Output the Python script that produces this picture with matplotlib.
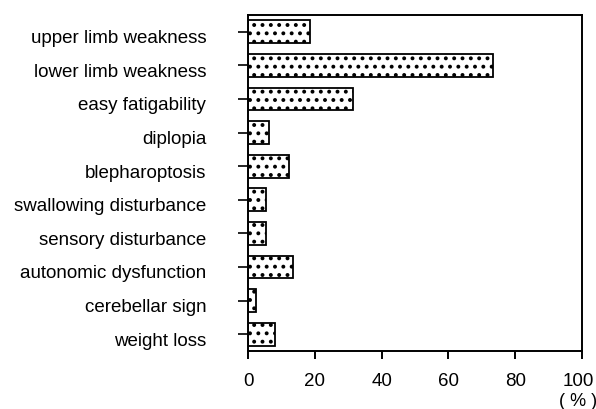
import matplotlib
matplotlib.use("Agg")
import matplotlib.pyplot as plt
import matplotlib.transforms as mtransforms

symptoms = [
    "upper limb weakness",
    "lower limb weakness",
    "easy fatigability",
    "diplopia",
    "blepharoptosis",
    "swallowing disturbance",
    "sensory disturbance",
    "autonomic dysfunction",
    "cerebellar sign",
    "weight loss",
]
percent = [18.6, 73.4, 31.4, 6.3, 12.3, 5.5, 5.5, 13.6, 2.4, 8.0]
xticks = [0, 20, 40, 60, 80, 100]

plt.rcParams["font.family"] = ["Liberation Sans", "DejaVu Sans"]
plt.rcParams["hatch.linewidth"] = 1.6
plt.rcParams["hatch.color"] = "black"

fig = plt.figure(figsize=(5.96, 4.09), dpi=100)
ax = fig.add_axes([248 / 596, 1 - 351 / 409, 334 / 596, 336 / 409])

ypos = list(range(len(symptoms)))
ax.barh(ypos, percent, height=0.68, color="white", edgecolor="black",
        linewidth=1.3, hatch="..")

ax.set_xlim(0, 100)
ax.set_ylim(len(symptoms) - 0.5, -0.5)
ax.set_xticks(xticks)
ax.set_yticks(ypos)
ax.set_yticklabels(symptoms)

ax.tick_params(axis="y", direction="out", length=7, width=1.2, pad=23,
               labelsize=13.5)
ax.tick_params(axis="x", direction="out", length=6, width=1.4, pad=10,
               labelsize=13.5)
for sp in ax.spines.values():
    sp.set_linewidth(1.4)

# nudge the category labels slightly below their bars
shift = mtransforms.ScaledTranslation(0, -5 / 100, fig.dpi_scale_trans)
for lbl in ax.get_yticklabels():
    lbl.set_transform(lbl.get_transform() + shift)

# keep the last x label inside the figure
last = ax.get_xticklabels()[-1]
last.set_transform(last.get_transform() +
                   mtransforms.ScaledTranslation(-4 / 100, 0, fig.dpi_scale_trans))

fig.text(578 / 596, 1 - 402 / 409, "( % )", ha="center", va="center",
         fontsize=13)

fig.savefig("out.png", dpi=100)
